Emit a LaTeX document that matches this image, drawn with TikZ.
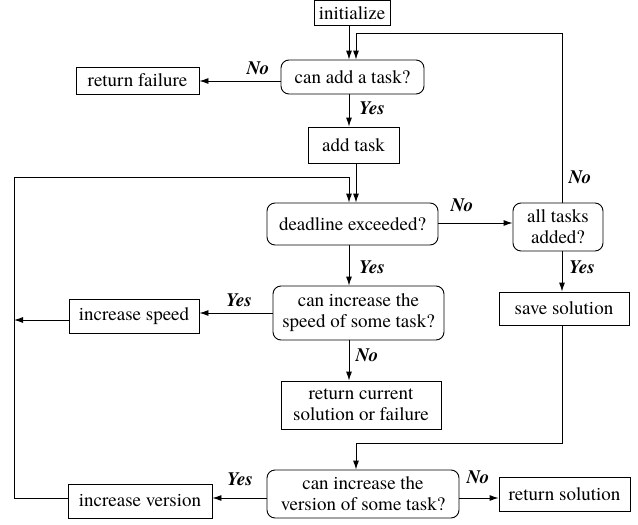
\documentclass[tikz,border=0pt]{standalone}
\usepackage{fontspec}
\setmainfont{TeX Gyre Termes}
\usetikzlibrary{arrows.meta}
\begin{document}
\begin{tikzpicture}[x=1pt,y=-1pt,
  font=\fontsize{19}{21}\selectfont,
  line width=0.9pt,
  box/.style={draw, rectangle, inner sep=0pt, align=center},
  dec/.style={draw, rectangle, rounded corners=8pt, inner sep=0pt, align=center},
  arr/.style={-{Latex[length=9pt,width=6pt]}},
  lbl/.style={font=\fontsize{19}{21}\selectfont\bfseries\itshape, inner sep=0pt}]
\useasboundingbox (0,0) rectangle (638,525);
% nodes
\node[box, minimum width=76pt, minimum height=25pt] (init) at (352,13) {initialize};
\node[dec, minimum width=143pt, minimum height=34pt] (canadd) at (352.5,77) {can add a task?};
\node[box, minimum width=123pt, minimum height=27pt] (retfail) at (137.5,80.5) {return failure};
\node[box, minimum width=91pt, minimum height=36pt] (addtask) at (353.5,145) {add task};
\node[dec, minimum width=171pt, minimum height=42pt] (deadline) at (352.5,224) {deadline exceeded?};
\node[dec, minimum width=90pt, minimum height=48pt] (alltasks) at (558,227) {all tasks\\added?};
\node[box, minimum width=130pt, minimum height=33pt] (savesol) at (564,308.5) {save solution};
\node[dec, minimum width=171pt, minimum height=54pt] (canspeed) at (358.5,313) {can increase the\\speed of some task?};
\node[box, minimum width=130pt, minimum height=34pt] (incspeed) at (134,316) {increase speed};
\node[box, minimum width=160pt, minimum height=48pt] (retcur) at (361,405) {return current\\solution or failure};
\node[dec, minimum width=192pt, minimum height=48pt] (canver) at (363,494) {can increase the\\version of some task?};
\node[box, minimum width=144pt, minimum height=34pt] (incver) at (140,501) {increase version};
\node[box, minimum width=131pt, minimum height=34pt] (retsol) at (564.5,494) {return solution};
% helper coordinates
\coordinate (xa) at (349,0);
\coordinate (xb) at (356,0);
\coordinate (tr) at (562,33);
\coordinate (tl) at (356,33);
\coordinate (ll) at (14,177);
\coordinate (lr) at (349,177);
\coordinate (lb) at (14,498);
\coordinate (yv) at (0,498);
\coordinate (ys) at (0,320);
\coordinate (yk) at (0,313);
\coordinate (yf) at (0,81);
\coordinate (yd) at (0,223);
\coordinate (br) at (562,443);
\coordinate (bl) at (356,443);
% connectors
\draw[arr] (init.south -| xa) -- (canadd.north -| xa);
\draw[arr] (alltasks.north -| tr) -- (tr) -- (tl) -- (canadd.north -| tl);
\draw[arr] (canadd.west |- yf) -- (retfail.east |- yf);
\draw[arr] (canadd.south -| xa) -- (addtask.north -| xa);
\draw[arr] (addtask.south -| xb) -- (deadline.north -| xb);
\draw[arr] (incver.west |- yv) -- (lb) -- (ll) -- (lr) -- (deadline.north -| lr);
\draw[arr] (deadline.east |- yd) -- (alltasks.west |- yd);
\draw[arr] (deadline.south -| xa) -- (canspeed.north -| xa);
\draw[arr] (canspeed.west |- yk) -- (incspeed.east |- yk);
\draw[arr] (incspeed.west |- ys) -- (ll |- ys);
\draw[arr] (canspeed.south -| xa) -- (retcur.north -| xa);
\draw[arr] (alltasks.south -| tr) -- (savesol.north -| tr);
\draw[arr] (savesol.south -| br) -- (br) -- (bl) -- (canver.north -| bl);
\draw[arr] (canver.east |- yv) -- (retsol.west |- yv);
\draw[arr] (canver.west |- yv) -- (incver.east |- yv);
% labels
\node[lbl] (l1) at (258,68) {No};
\node[lbl] (l2) at (372,108) {Yes};
\node[lbl] (l3) at (580,177) {No};
\node[lbl] (l4) at (462,205) {No};
\node[lbl] (l5) at (372,267) {Yes};
\node[lbl] (l6) at (582,267) {Yes};
\node[lbl] (l7) at (239,300) {Yes};
\node[lbl] (l8) at (367,355) {No};
\node[lbl] (l9) at (240,479) {Yes};
\node[lbl] (l10) at (478,477) {No};
\end{tikzpicture}
\end{document}
